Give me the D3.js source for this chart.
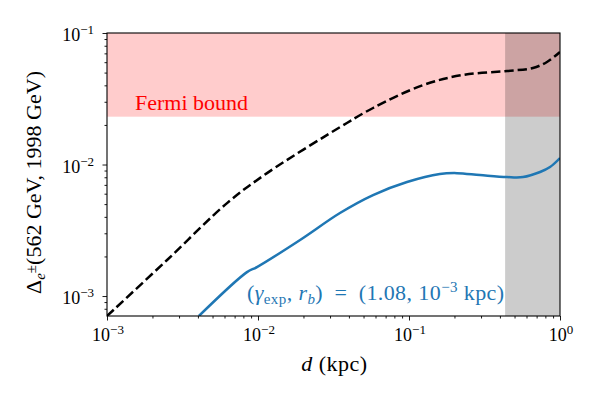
<!DOCTYPE html>
<html>
<head>
<meta charset="utf-8">
<script src="https://cdn.jsdelivr.net/npm/d3@7"></script>
<style>
  body { margin: 0; background: #fff; }
  svg, svg text, svg tspan { font-family: "Liberation Serif", "Times New Roman", serif; }
</style>
</head>
<body>
<div class="chart"></div>
<script>
// data
var xDomain = [1e-3, 1];
var yDomain = [7.05e-4, 1e-1];
var fermiBound = 0.0231;
var shadeStart = 0.433;

var boundD = [1e-3, 2.5e-3, 6.24e-3, 0.01148, 0.0388, 0.0578, 0.124, 0.228, 0.446, 0.662, 0.82, 1];
var boundVal = [7.05e-4, 1.88e-3, 5.09e-3, 8.6e-3, 0.0207, 0.0269, 0.0402, 0.048, 0.0514, 0.0542, 0.0602, 0.0717];

var modelD = [4.06e-3, 8.45e-3, 9.84e-3, 0.019, 0.0349, 0.0578, 0.097, 0.160, 0.208, 0.295, 0.446, 0.569, 0.738, 0.859, 1];
var modelVal = [7.05e-4, 1.52e-3, 1.66e-3, 2.67e-3, 4.28e-3, 5.86e-3, 7.36e-3, 8.47e-3, 8.6e-3, 8.32e-3, 8.03e-3, 8.03e-3, 8.77e-3, 9.57e-3, 0.0112];

var xTicks = [1e-3, 1e-2, 1e-1, 1];
var xTickExp = ["\u22123", "\u22122", "\u22121", "0"];
var yTicks = [1e-3, 1e-2, 1e-1];
var yTickExp = ["\u22123", "\u22122", "\u22121"];

var svgWidth = 600, svgHeight = 405;
var margin = { top: 33, right: 40, bottom: 89, left: 107 };
var width = svgWidth - margin.left - margin.right;
var height = svgHeight - margin.top - margin.bottom;

var svg = d3.select(".chart").append("svg")
  .attr("width", svgWidth)
  .attr("height", svgHeight)
  .attr("font-family", "Liberation Serif, serif");

var chartGroup = svg.append("g")
  .attr("transform", `translate(${margin.left}, ${margin.top})`);

var x = d3.scaleLog().domain(xDomain).range([0, width]);
var y = d3.scaleLog().domain(yDomain).range([height, 0]);

chartGroup.append("defs").append("clipPath").attr("id", "clip")
  .append("rect").attr("width", width).attr("height", height);

var plot = chartGroup.append("g").attr("clip-path", "url(#clip)");

// Fermi band
plot.append("rect")
  .attr("x", 0).attr("y", y(yDomain[1]))
  .attr("width", width).attr("height", y(fermiBound) - y(yDomain[1]))
  .attr("fill", "red").attr("fill-opacity", 0.2);

// grey region
plot.append("rect")
  .attr("x", x(shadeStart)).attr("y", 0)
  .attr("width", x(xDomain[1]) - x(shadeStart)).attr("height", height)
  .attr("fill", "black").attr("fill-opacity", 0.2);

var line = d3.line().curve(d3.curveCatmullRom.alpha(0.5))
  .x(d => x(d[0]))
  .y(d => y(d[1]));

plot.append("path")
  .datum(d3.zip(boundD, boundVal))
  .attr("d", line)
  .attr("fill", "none")
  .attr("stroke", "black")
  .attr("stroke-width", 2.5)
  .attr("stroke-dasharray", "9.25,4");

plot.append("path")
  .datum(d3.zip(modelD, modelVal))
  .attr("d", line)
  .attr("fill", "none")
  .attr("stroke", "#1f77b4")
  .attr("stroke-width", 2.5);

// axes
var xAxis = d3.axisBottom(x).tickValues(xTicks).tickSize(4.5).tickFormat("");
var yAxis = d3.axisLeft(y).tickValues(yTicks).tickSize(4.5).tickFormat("");

var xMinor = [];
[1e-3, 1e-2, 1e-1].forEach(function(b) { for (var k = 2; k < 10; k++) xMinor.push(b * k); });
var yMinor = [];
[1e-4, 1e-3, 1e-2].forEach(function(b) { for (var k = 2; k < 10; k++) { var v = b * k; if (v >= yDomain[0] && v <= yDomain[1]) yMinor.push(v); } });

chartGroup.append("g").attr("transform", `translate(0, ${height})`).call(xAxis);
chartGroup.append("g").attr("transform", `translate(0, ${height})`)
  .call(d3.axisBottom(x).tickValues(xMinor).tickSize(2.5).tickFormat(""));
chartGroup.append("g").call(yAxis);
chartGroup.append("g")
  .call(d3.axisLeft(y).tickValues(yMinor).tickSize(2.5).tickFormat(""));

chartGroup.selectAll(".domain").remove();
chartGroup.selectAll(".tick line").attr("stroke", "black").attr("stroke-width", 0.9);

// frame
chartGroup.append("rect")
  .attr("width", width).attr("height", height)
  .attr("fill", "none").attr("stroke", "black").attr("stroke-width", 1.1);

// tick labels
xTicks.forEach(function(v, i) {
  var t = chartGroup.append("text")
    .attr("x", x(v) + 1).attr("y", height + 25)
    .attr("text-anchor", "middle")
    .style("font-size", "18px");
  t.append("tspan").text("10");
  t.append("tspan").attr("dy", -7).style("font-size", "13px").text(xTickExp[i]);
});
yTicks.forEach(function(v, i) {
  var t = chartGroup.append("text")
    .attr("x", -13).attr("y", y(v) + 8)
    .attr("text-anchor", "end")
    .style("font-size", "18px");
  t.append("tspan").text("10");
  t.append("tspan").attr("dy", -7).style("font-size", "13px").text(yTickExp[i]);
});

// axis labels
var xl = chartGroup.append("text")
  .attr("x", width / 2 + 1).attr("y", height + 55)
  .attr("text-anchor", "middle")
  .style("font-size", "22px")
  .style("letter-spacing", "0.5px");
xl.append("tspan").style("font-style", "italic").text("d");
xl.append("tspan").text(" (kpc)");

var yl = chartGroup.append("text")
  .attr("transform", `translate(-66, ${height / 2 + 8}) rotate(-90)`)
  .attr("text-anchor", "middle")
  .style("font-size", "22px");
yl.append("tspan").text("\u0394");
yl.append("tspan").attr("dy", 4).style("font-size", "15px").style("font-style", "italic").text("e");
yl.append("tspan").attr("dy", -9).style("font-size", "15px").text("\u00b1");
yl.append("tspan").attr("dy", 5).text("(562 GeV, 1998 GeV)");

// annotations
chartGroup.append("text")
  .attr("x", 28).attr("y", 77)
  .attr("fill", "red")
  .style("font-size", "22px")
  .text("Fermi bound");

var ann = chartGroup.append("text")
  .attr("x", 140).attr("y", 267)
  .attr("fill", "#1f77b4")
  .style("font-size", "22px")
  .style("letter-spacing", "0.4px");
ann.append("tspan").text("(");
ann.append("tspan").style("font-style", "italic").text("\u03b3");
ann.append("tspan").attr("dy", 4).style("font-size", "15px").text("exp");
ann.append("tspan").attr("dy", -4).text(", ");
ann.append("tspan").style("font-style", "italic").text("r");
ann.append("tspan").attr("dy", 4).style("font-size", "15px").style("font-style", "italic").text("b");
ann.append("tspan").attr("dy", -4).text(")\u2002=\u2002(1.08, 10");
ann.append("tspan").attr("dy", -8).style("font-size", "15px").text("\u22123");
ann.append("tspan").attr("dy", 8).text(" kpc)");
</script>
</body>
</html>
